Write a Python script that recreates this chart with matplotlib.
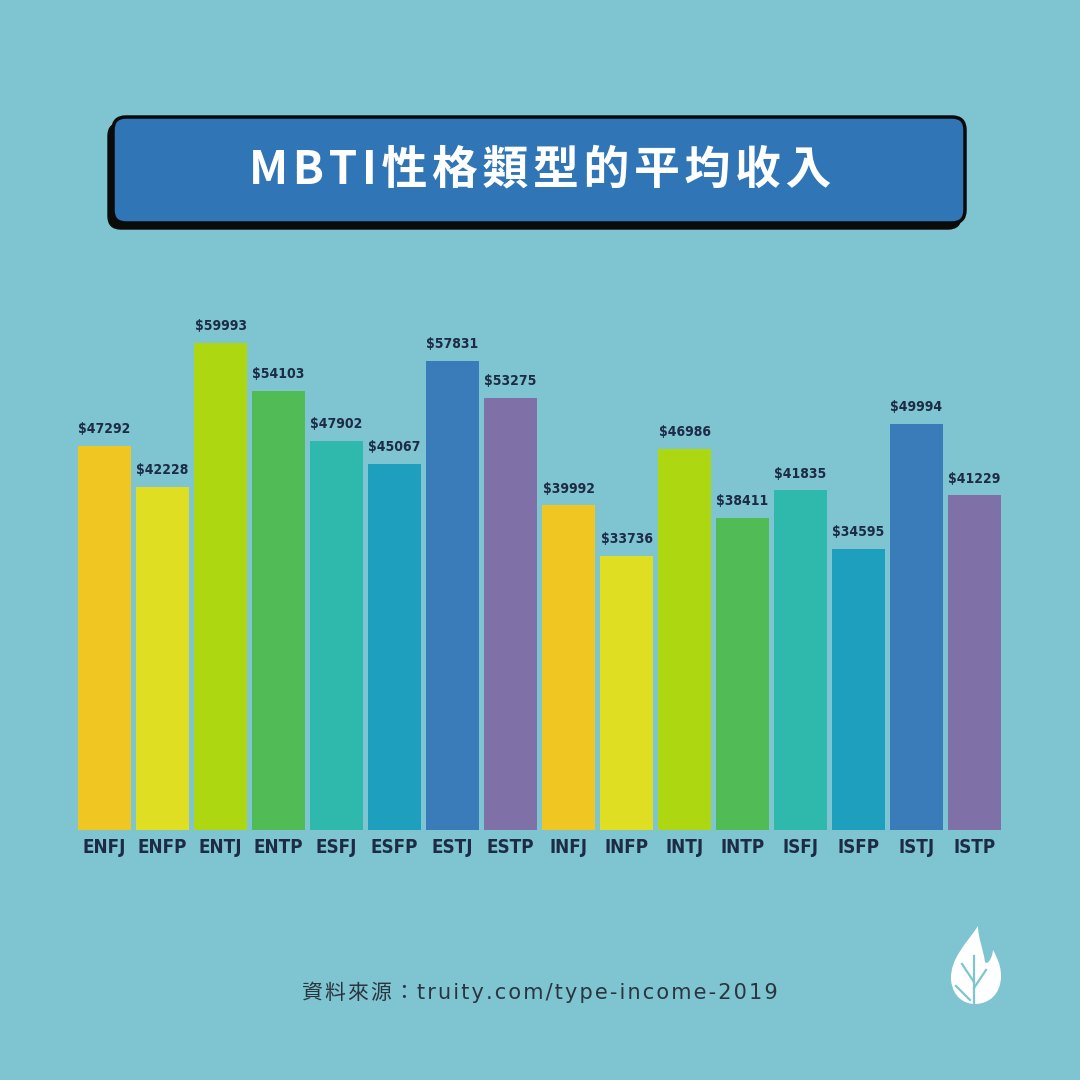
import matplotlib
matplotlib.use("Agg")
import matplotlib.pyplot as plt
from matplotlib.patches import FancyBboxPatch, PathPatch
from matplotlib.path import Path

types = ["ENFJ", "ENFP", "ENTJ", "ENTP", "ESFJ", "ESFP", "ESTJ", "ESTP",
         "INFJ", "INFP", "INTJ", "INTP", "ISFJ", "ISFP", "ISTJ", "ISTP"]
income = [47292, 42228, 59993, 54103, 47902, 45067, 57831, 53275,
          39992, 33736, 46986, 38411, 41835, 34595, 49994, 41229]
palette = ["#F0C722", "#E0DE22", "#ADD811", "#51BC55", "#2FB9AC", "#1E9FBD",
           "#3A7BBA", "#7F71A8"]
colors = palette * 2

title = "MBTI性格類型的平均收入"
source = "資料來源：truity.com/type-income-2019"

BG = "#7EC5D1"
DARK = "#1E2B45"
HAIR = "\u200A"

W = H = 1080
fig = plt.figure(figsize=(10.8, 10.8), dpi=100)
fig.patch.set_facecolor(BG)

def fx(px):
    return px / W

def fy(py):
    return 1 - py / H

def spaced(s, sep):
    return sep.join(s)

# Title box with shadow
shadow = FancyBboxPatch((fx(108), fy(229)), fx(965 - 112), fx(223 - 117),
                        boxstyle="round,pad=0,rounding_size=0.012",
                        transform=fig.transFigure, facecolor="#0B0B0B",
                        edgecolor="#0B0B0B", lw=1, zorder=1)
fig.patches.append(shadow)
box = FancyBboxPatch((fx(113), fy(223)), fx(965 - 113), fx(223 - 117),
                     boxstyle="round,pad=0,rounding_size=0.012",
                     transform=fig.transFigure, facecolor="#3075B5",
                     edgecolor="#0B0B0B", lw=2.5, zorder=2)
fig.patches.append(box)
fig.text(0.5, fy(171), spaced(title, HAIR), ha="center", va="center",
         color="white", fontsize=33, fontweight="bold",
         family=["Noto Sans CJK TC", "DejaVu Sans"], zorder=3)

# Bars
ax = fig.add_axes([fx(75.5), fy(830), fx(928), fx(530)])
ax.set_facecolor(BG)
ymax = 530 / (487 / 59993)
x = list(range(len(types)))
ax.bar(x, income, width=0.91, color=colors, zorder=2)
ax.set_xlim(-0.5, len(types) - 0.5)
ax.set_ylim(0, ymax)
for xi, v in zip(x, income):
    ax.annotate(f"${v}", (xi, v), xytext=(0, 7), textcoords="offset points",
                ha="center", va="bottom", fontsize=10, fontweight="bold",
                fontstretch="condensed", family="DejaVu Sans", color=DARK)
ax.set_xticks(x)
ax.set_xticklabels(types, fontsize=13.5, fontweight="bold",
                   fontstretch="condensed", family="DejaVu Sans", color=DARK)
ax.tick_params(axis="x", length=0, pad=6)
ax.set_yticks([])
for s in ax.spines.values():
    s.set_visible(False)

# Source text
fig.text(fx(540), fy(992), spaced(source, HAIR), ha="center", va="center",
         color="#2B3540", fontsize=15, fontweight="medium",
         family=["DejaVu Sans", "Noto Sans CJK TC"])

# Flame logo
cx, cy = 975, 968
flame = [
    (cx + 3, cy - 42), (cx - 8, cy - 25), (cx - 25, cy - 10), (cx - 24, cy + 12),
    (cx - 22, cy + 30), (cx - 10, cy + 36), (cx + 0, cy + 36),
    (cx + 14, cy + 36), (cx + 26, cy + 26), (cx + 26, cy + 8),
    (cx + 26, cy - 5), (cx + 20, cy - 14), (cx + 18, cy - 18),
    (cx + 17, cy - 8), (cx + 12, cy - 3), (cx + 10, cy - 6),
    (cx + 8, cy - 20), (cx + 3, cy - 30), (cx + 3, cy - 42),
]
codes = [Path.MOVETO] + [Path.CURVE4] * 18
verts = [(fx(a), fy(b)) for a, b in flame]
fig.patches.append(PathPatch(Path(verts, codes), transform=fig.transFigure,
                             facecolor="white", edgecolor="none", zorder=3))
for seg in [[(cx - 1, cy + 36), (cx - 1, cy - 12)],
            [(cx - 1, cy + 14), (cx - 13, cy - 4)],
            [(cx - 1, cy + 20), (cx + 11, cy + 2)],
            [(cx - 5, cy + 32), (cx - 19, cy + 18)]]:
    fig.lines.append(plt.Line2D([fx(p[0]) for p in seg], [fy(p[1]) for p in seg],
                                transform=fig.transFigure, color=BG, lw=1.6,
                                zorder=4))

fig.savefig("out.png", dpi=100, facecolor=BG)
